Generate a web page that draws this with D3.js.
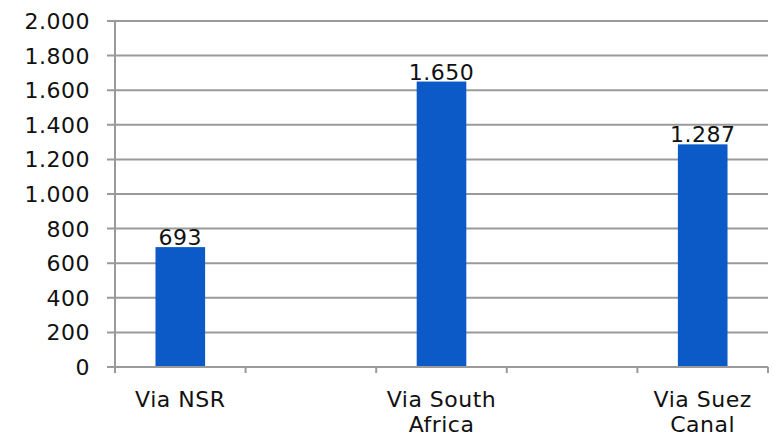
<!DOCTYPE html>
<html lang="en">
  <head>
    <meta charset="utf-8">
    <title>Distance by route</title>
    <style>
      body { margin: 0; background: #fff; }
      svg text { font-family: "DejaVu Sans", sans-serif; fill: #111; }
    </style>
  </head>
  <body>
    <svg width="774" height="438"></svg>

    <script src="https://cdn.jsdelivr.net/npm/d3@7/dist/d3.min.js"></script>
    <script>

    // categories incl. the two empty slots between the bars
    var categories = ["Via NSR", "", "Via South Africa", "", "Via Suez Canal"];
    var labelLines = [["Via NSR"], [], ["Via South", "Africa"], [], ["Via Suez", "Canal"]];
    var values = [693, null, 1650, null, 1287];
    var yTicks = [0, 200, 400, 600, 800, 1000, 1200, 1400, 1600, 1800, 2000];

    var svg = d3.select("svg"),
        margin = {top: 21, right: 6, bottom: 71, left: 115},
        width = +svg.attr("width") - margin.left - margin.right,
        height = +svg.attr("height") - margin.top - margin.bottom,
        g = svg.append("g").attr("transform", "translate(" + margin.left + "," + margin.top + ")");

    var fmt = d3.formatLocale({decimal: ",", thousands: ".", grouping: [3], currency: ["", ""]}).format(",d");

    var x = d3.scaleBand()
        .domain(d3.range(categories.length))
        .range([0, width])
        .padding(0);

    var y = d3.scaleLinear()
        .domain([0, 2000])
        .range([height, 0]);

    var axisColor = "#9a9a9a";

    // gridlines + y labels
    g.selectAll(".grid")
        .data(yTicks.slice(1))
      .enter().append("line")
        .attr("x1", -8).attr("x2", width)
        .attr("y1", function(d) { return y(d); })
        .attr("y2", function(d) { return y(d); })
        .attr("stroke", axisColor)
        .attr("stroke-width", 2);

    g.selectAll(".ylab")
        .data(yTicks)
      .enter().append("text")
        .attr("x", -25)
        .attr("y", function(d) { return y(d); })
        .attr("dy", "0.36em")
        .attr("text-anchor", "end")
        .style("font-size", "22px")
        .style("letter-spacing", "0.5px")
        .text(fmt);

    // bars
    var barW = x.bandwidth() * 0.38;
    var data = values.map(function(v, i) { return {i: i, v: v}; }).filter(function(d) { return d.v != null; });

    g.selectAll(".bar")
        .data(data)
      .enter().append("rect")
        .attr("x", function(d) { return x(d.i) + (x.bandwidth() - barW) / 2; })
        .attr("y", function(d) { return y(d.v); })
        .attr("width", barW)
        .attr("height", function(d) { return height - y(d.v); })
        .attr("fill", "#0b5ac8");

    g.selectAll(".val")
        .data(data)
      .enter().append("text")
        .attr("x", function(d) { return x(d.i) + x.bandwidth() / 2; })
        .attr("y", function(d) { return y(d.v) - 2; })
        .attr("text-anchor", "middle")
        .style("font-size", "22px")
        .style("letter-spacing", "0.5px")
        .text(function(d) { return fmt(d.v); });

    // axes
    g.append("line")
        .attr("x1", 0).attr("x2", 0)
        .attr("y1", y(2000)).attr("y2", height + 5)
        .attr("stroke", axisColor).attr("stroke-width", 2);

    g.append("line")
        .attr("x1", -8).attr("x2", width)
        .attr("y1", height).attr("y2", height)
        .attr("stroke", axisColor).attr("stroke-width", 2);

    var bounds = d3.range(categories.length + 1).map(function(i) {
      return i < categories.length ? x(i) : width;
    });
    g.selectAll(".xtick")
        .data(bounds)
      .enter().append("line")
        .attr("x1", function(d) { return d; })
        .attr("x2", function(d) { return d; })
        .attr("y1", height).attr("y2", height + 6)
        .attr("stroke", axisColor).attr("stroke-width", 2);

    var xl = g.selectAll(".xlab")
        .data(labelLines)
      .enter().append("text")
        .attr("text-anchor", "middle")
        .attr("transform", function(d, i) { return "translate(" + (x(i) + x.bandwidth() / 2) + "," + (height + 40) + ")"; })
        .style("font-size", "22px")
        .style("letter-spacing", "0.5px");

    xl.selectAll("tspan")
        .data(function(d) { return d; })
      .enter().append("tspan")
        .attr("x", 0)
        .attr("dy", function(d, i) { return i ? 25 : 0; })
        .text(function(d) { return d; });

    </script>
  </body>
</html>
